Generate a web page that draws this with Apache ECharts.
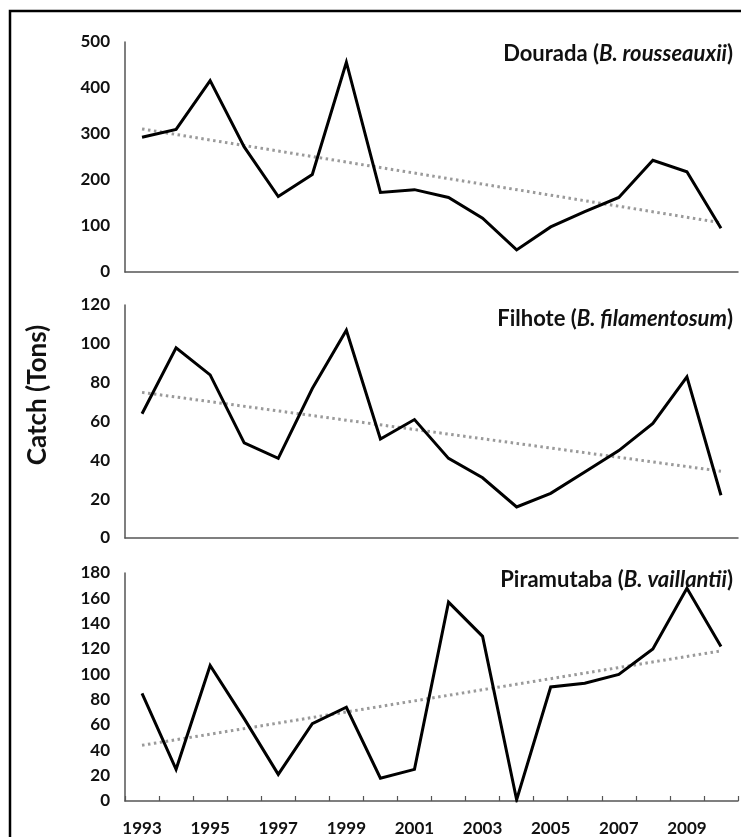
<!DOCTYPE html>
<html>
<head>
<meta charset="utf-8">
<script src="https://cdn.jsdelivr.net/npm/echarts@6/dist/echarts.min.js"></script>
<style>
  html, body { margin: 0; padding: 0; background: #fff; }
  #chart { width: 741px; height: 837px; }
</style>
</head>
<body>
<div id="chart"></div>
<script>
// Years of landing records
const years = ['1993','1994','1995','1996','1997','1998','1999','2000','2001',
               '2002','2003','2004','2005','2006','2007','2008','2009','2010'];

// Annual catch (tons) per species
const dourada    = [293, 310, 416, 272, 164, 212, 456, 173, 179, 162, 117, 48, 98, 131, 162, 243, 218, 95];
const filhote    = [64, 98, 84, 49, 41, 77, 107, 51, 61, 41, 31, 16, 23, 34, 45, 59, 83, 22];
const piramutaba = [85, 25, 107, 65, 21, 61, 74, 18, 25, 157, 130, 1, 90, 93, 100, 120, 168, 122];

// Linear trend end values (first and last year)
const douradaTrend    = [311, 107];
const filhoteTrend    = [75, 34.4];
const piramutabaTrend = [44, 118.5];

// Y axis ranges and steps
const yMax  = [500, 120, 180];
const yStep = [100, 20, 20];

const panelNames = [
  ['Dourada (', 'B. rousseauxii', ')'],
  ['Filhote (', 'B. filamentosum', ')'],
  ['Piramutaba (', 'B. vaillantii', ')']
];

function trendData(ends) {
  const d = years.map(() => null);
  d[0] = ends[0];
  d[d.length - 1] = ends[1];
  return d;
}

const FONT = 'Lato';
const grids = [
  { left: 125, right: 3, top: 42, height: 230 },
  { left: 125, right: 3, top: 305, height: 233 },
  { left: 125, right: 3, top: 573, height: 229 }
];

const xAxes = grids.map((g, i) => ({
  type: 'category',
  gridIndex: i,
  data: years,
  boundaryGap: true,
  axisLine: { lineStyle: { color: '#555', width: 1.5 } },
  axisTick: { show: i === 2, inside: true, length: 5, interval: 0, lineStyle: { color: '#555', width: 1.2 } },
  axisLabel: {
    show: i === 2, interval: 1, margin: 19,
    fontFamily: FONT, fontWeight: 'bold', fontSize: 17, color: '#111'
  }
}));

const yAxes = grids.map((g, i) => ({
  type: 'value',
  gridIndex: i,
  min: 0, max: yMax[i], interval: yStep[i],
  axisLine: { show: true, lineStyle: { color: '#555', width: 1.5 } },
  axisTick: { show: false },
  splitLine: { show: false },
  axisLabel: { margin: 15, fontFamily: FONT, fontWeight: 'bold', fontSize: 17, color: '#111' }
}));

const values = [dourada, filhote, piramutaba];
const trends = [douradaTrend, filhoteTrend, piramutabaTrend];

const series = [];
values.forEach((v, i) => {
  series.push({
    type: 'line', xAxisIndex: i, yAxisIndex: i, data: v,
    symbol: 'none', lineStyle: { color: '#000', width: 3, join: 'miter' }, z: 3
  });
  series.push({
    type: 'line', xAxisIndex: i, yAxisIndex: i, data: trendData(trends[i]),
    connectNulls: true, symbol: 'none',
    lineStyle: { color: '#9a9a9a', width: 3, type: [2.5, 3.5], cap: 'butt' }, z: 2
  });
});

const titleTops = [38, 303, 564];
const titles = panelNames.map((p, i) => ({
  text: '{n|' + p[0] + '}{i|' + p[1] + '}{n|' + p[2] + '}',
  right: 3, top: titleTops[i],
  textStyle: {
    rich: {
      n: { fontFamily: FONT, fontWeight: 'bold', fontSize: 22, color: '#111' },
      i: { fontFamily: FONT, fontWeight: 'bold', fontStyle: 'italic', fontSize: 22, color: '#111' }
    }
  }
}));

const chart = echarts.init(document.getElementById('chart'), null, { renderer: 'canvas' });
chart.setOption({
  animation: false,
  backgroundColor: '#fff',
  title: titles,
  grid: grids,
  xAxis: xAxes,
  yAxis: yAxes,
  series: series,
  graphic: [
    {
      type: 'rect', silent: true,
      shape: { x: 10, y: 11, width: 800, height: 900 },
      style: { fill: 'none', stroke: '#000', lineWidth: 2.5 }
    },
    {
      type: 'text', silent: true,
      x: 38, y: 395, rotation: Math.PI / 2,
      style: {
        text: 'Catch (Tons)', fontFamily: FONT, fontWeight: 'bold', fontSize: 26,
        fill: '#111', align: 'center', verticalAlign: 'middle'
      }
    }
  ]
});
</script>
</body>
</html>
